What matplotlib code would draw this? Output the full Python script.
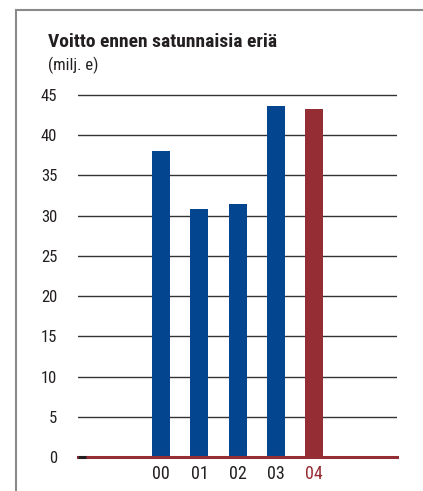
import matplotlib
matplotlib.use('Agg')
import matplotlib.pyplot as plt
from matplotlib.lines import Line2D

# data
years = ['00', '01', '02', '03', '04']
profit = [38.1, 30.8, 31.5, 43.6, 43.2]
yticks = [0, 5, 10, 15, 20, 25, 30, 35, 40, 45]

blue = '#03468f'
red = '#952d35'
ink = '#231f20'
font = ['Roboto Condensed', 'Roboto', 'DejaVu Sans']

W, H = 423, 491
fig = plt.figure(figsize=(W / 100, H / 100), dpi=100)

# axes placed so that 0 sits at y=457px and 45 at y=95px
y0, y45 = 457, 95
ppu = (y0 - y45) / 45.0
ytop = 45.6
ax = fig.add_axes([78 / W, 1 - y0 / H, (397 - 78) / W, ytop * ppu / H])

xs = list(range(len(years)))
colors = [blue] * 4 + [red]
ax.bar(xs, profit, width=0.47, color=colors, zorder=3)

ax.set_ylim(0, ytop)
ax.set_xlim(-2.17, 6.16)
for v in yticks[1:]:
    ax.axhline(v, color='#333333', lw=1.0, zorder=1)
ax.axhline(0, color=red, lw=2.2, zorder=4, clip_on=False)
ax.plot([-2.17, -1.96], [0, 0], color=ink, lw=2.2, zorder=5,
        solid_capstyle='butt', clip_on=False)

for s in ax.spines.values():
    s.set_visible(False)
ax.set_yticks(yticks)
ax.set_yticklabels([str(v) for v in yticks], family=font, fontsize=12, color=ink)
ax.set_xticks(xs)
ax.set_xticklabels(years, family=font, fontsize=13, color=ink)
ax.get_xticklabels()[-1].set_color(red)
ax.tick_params(axis='both', length=0)
ax.tick_params(axis='y', pad=15)
ax.tick_params(axis='x', pad=6)

fig.text(48 / W, 1 - 47 / H, 'Voitto ennen satunnaisia eriä', family=font,
         fontsize=14, fontweight='bold', color=ink, ha='left', va='baseline')
fig.text(48 / W, 1 - 70 / H, '(milj. e)', family=font, fontsize=12,
         color=ink, ha='left', va='baseline')

# frame (left and top only)
fig.add_artist(Line2D([16 / W, 16 / W], [0, 1 - 10 / H], color='#8a8a8a', lw=1.5))
fig.add_artist(Line2D([16 / W, 1], [1 - 10 / H, 1 - 10 / H], color='#8a8a8a', lw=1.5))

fig.savefig('out.png', dpi=100)
